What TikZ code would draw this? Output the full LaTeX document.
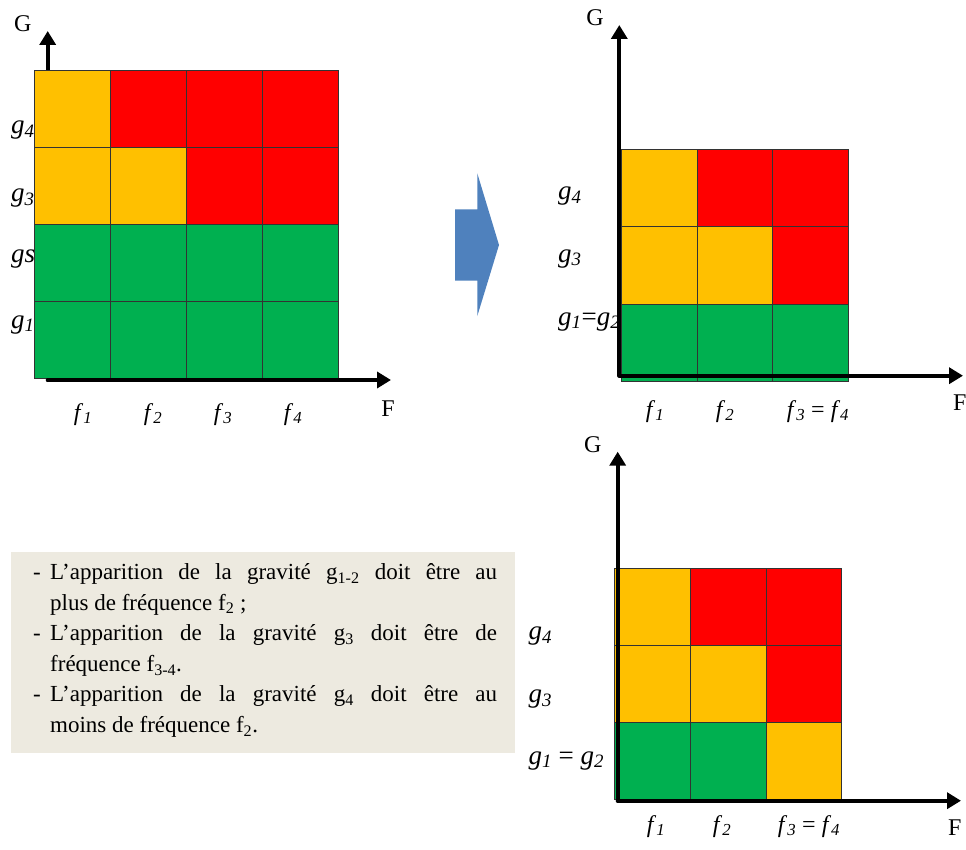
\documentclass[tikz,border=0pt]{standalone}
\usepackage{fontspec}
\setmainfont{Liberation Serif}
\usetikzlibrary{arrows.meta,positioning}
\definecolor{riskorange}{HTML}{FFC000}
\definecolor{riskred}{HTML}{FF0000}
\definecolor{riskgreen}{HTML}{00B050}
\definecolor{notebg}{HTML}{EDEAE0}
\definecolor{shiftblue}{HTML}{4F81BD}
\newcommand{\ix}[2]{\textit{#1}\textsubscript{\textit{#2}}}

\begin{document}
\begin{tikzpicture}[x=1pt,y=-1pt,
    cell/.style={draw=black!80,line width=0.8pt,minimum width=76pt,minimum height=77pt,
      anchor=north west,inner sep=0pt},
    axis/.style={line width=4pt,line cap=round,-{Triangle[length=14pt,width=16pt]}},
    lab/.style={inner sep=0pt,font=\fontsize{24}{27}\selectfont},
    glab/.style={inner sep=0pt,anchor=base west,font=\fontsize{27}{30}\selectfont},
    flab/.style={inner sep=0pt,anchor=base,font=\fontsize{24}{27}\selectfont}]
  \useasboundingbox (0,0) rectangle (966,850);

  % initial matrix
  \node[lab,anchor=base] (axg1) at (22.7,31.7) {G};
  \node[lab,anchor=base] (axf1) at (388,416.7) {F};
  \node[glab] (g4a) at (11,133.3) {\ix{g}{4}};
  \node[glab] (g3a) at (11,201.7) {\ix{g}{3}};
  \node[glab] (g2a) at (11,263) {\textit{gs}};
  \node[glab] (g1a) at (11,328) {\ix{g}{1}};
  \foreach \k/\x in {1/83,2/153,3/223,4/293}
    \node[flab] (fa-\k) at (\x,420) {\ix{f}{\k}};
  \coordinate (o1) at (47.7,380);
  \coordinate (gtip1) at (47.7,31);
  \coordinate (ftip1) at (391,380);
  \draw[axis] (o1) -- (gtip1);
  \foreach \r/\row in {0/{riskorange,riskred,riskred,riskred},
      1/{riskorange,riskorange,riskred,riskred},
      2/{riskgreen,riskgreen,riskgreen,riskgreen},
      3/{riskgreen,riskgreen,riskgreen,riskgreen}}
    \foreach \c [count=\j from 0] in \row
      \node[cell,fill=\c] (ma-\r-\j) at ({34+76*\j},{70+77*\r}) {};
  \draw[axis] (o1) -- (ftip1);

  % transition arrow
  \fill[shiftblue] (455,209.3) -- (477.3,209.3) -- (477.3,173.3) -- (499,245)
    -- (477.3,316) -- (477.3,280.7) -- (455,280.7) -- cycle;

  % reduced matrix
  \node[lab,anchor=base] (axg2) at (595,26) {G};
  \node[lab,anchor=base west] (axf2) at (953,410) {F};
  \node[glab] (g4b) at (558,200) {\ix{g}{4}};
  \node[glab] (g3b) at (558,262) {\ix{g}{3}};
  \node[glab] (g1b) at (558,325) {\ix{g}{1}=\ix{g}{2}};
  \node[flab] (fb-1) at (655,417) {\ix{f}{1}};
  \node[flab] (fb-2) at (725,417) {\ix{f}{2}};
  \node[flab] (fb-3) at (818,417) {\ix{f}{3} = \ix{f}{4}};
  \foreach \r/\row in {0/{riskorange,riskred,riskred},
      1/{riskorange,riskorange,riskred},
      2/{riskgreen,riskgreen,riskgreen}}
    \foreach \c [count=\j from 0] in \row
      \node[cell,fill=\c,minimum width=75.5pt] (mb-\r-\j) at ({621+75.5*\j},{149.5+77*\r}) {};
  \coordinate (o2) at (619.3,375.7);
  \coordinate (gtip2) at (619.3,25);
  \coordinate (ftip2) at (963,375.7);
  \draw[axis] (o2) -- (gtip2);
  \draw[axis] (o2) -- (ftip2);

  % final matrix
  \node[lab,anchor=base] (axg3) at (592.7,452.7) {G};
  \node[lab,anchor=base west] (axf3) at (948,835) {F};
  \node[glab] (g4c) at (528.3,639.3) {\ix{g}{4}};
  \node[glab] (g3c) at (528.3,702.7) {\ix{g}{3}};
  \node[glab] (g1c) at (528.3,764) {\ix{g}{1} = \ix{g}{2}};
  \node[flab] (fc-1) at (656,832) {\ix{f}{1}};
  \node[flab] (fc-2) at (722,832) {\ix{f}{2}};
  \node[flab] (fc-3) at (809,832) {\ix{f}{3} = \ix{f}{4}};
  \foreach \r/\row in {0/{riskorange,riskred,riskred},
      1/{riskorange,riskorange,riskred},
      2/{riskgreen,riskgreen,riskorange}}
    \foreach \c [count=\j from 0] in \row
      \node[cell,fill=\c,minimum width=75.9pt] (mc-\r-\j) at ({613.7+75.9*\j},{568.3+77*\r}) {};
  \coordinate (o3) at (617.7,800.7);
  \coordinate (gtip3) at (617.7,451.7);
  \coordinate (ftip3) at (961,800.7);
  \draw[axis] (o3) -- (gtip3);
  \draw[axis] (o3) -- (ftip3);

  % rules
  \fill[notebg] (11.3,552) rectangle (515,753);
  \node[anchor=north west,inner sep=0pt,text width=464pt,align=justify,
    font=\fontsize{23}{30.6}\selectfont] (notes) at (33,557.9) {%
    \noindent\hangindent=17pt\hangafter=1\strut\makebox[17pt][l]{-}L’apparition de la gravité
    g\textsubscript{1-2} doit être au\linebreak plus de fréquence f\textsubscript{2} ;\par
    \noindent\hangindent=17pt\hangafter=1\strut\makebox[17pt][l]{-}L’apparition de la gravité
    g\textsubscript{3} doit être de\linebreak fréquence f\textsubscript{3-4}.\par
    \noindent\hangindent=17pt\hangafter=1\strut\makebox[17pt][l]{-}L’apparition de la gravité
    g\textsubscript{4} doit être au\linebreak moins de fréquence f\textsubscript{2}.\strut\par};
\end{tikzpicture}
\end{document}
